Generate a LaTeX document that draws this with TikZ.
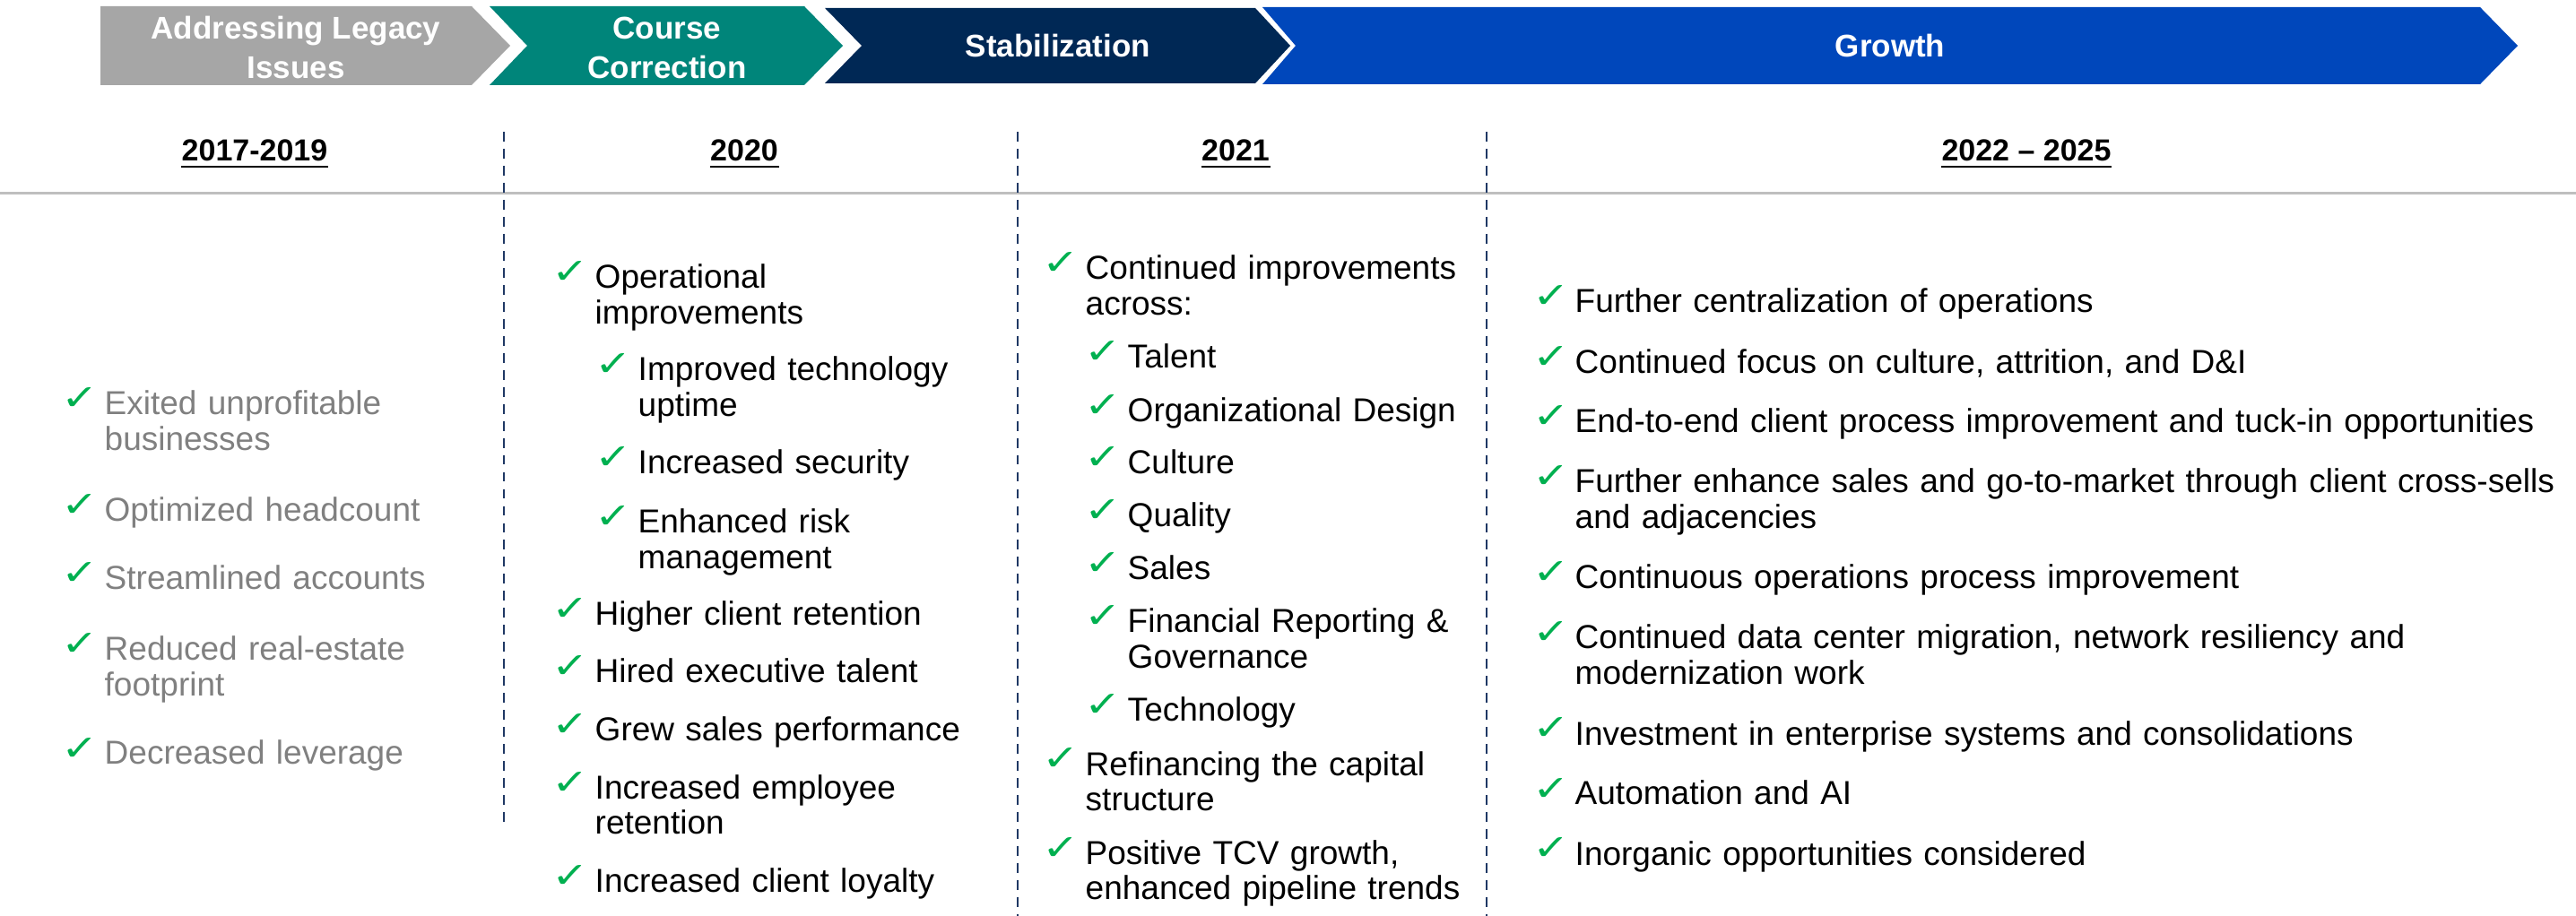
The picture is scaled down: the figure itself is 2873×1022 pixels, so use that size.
\documentclass[tikz,border=0pt]{standalone}
\usepackage{fontspec}
\setmainfont{Liberation Sans}
\newfontfamily\tickfam{DejaVu Sans}
\usepackage{graphicx}
\usepackage{tikz}
\usetikzlibrary{calc}

\definecolor{legacygrey}{RGB}{166,166,166}
\definecolor{courseteal}{RGB}{0,133,122}
\definecolor{stabnavy}{RGB}{0,40,85}
\definecolor{growthblue}{RGB}{0,71,187}
\definecolor{tickgreen}{RGB}{0,176,80}
\definecolor{dashnavy}{RGB}{31,56,100}
\definecolor{rulegrey}{RGB}{191,191,191}
\definecolor{oldtext}{RGB}{128,128,128}

\newcommand{\bodyfont}{\fontsize{10.53pt}{11.24pt}\selectfont}
\newcommand{\headfont}{\fontsize{9.67pt}{11pt}\selectfont\bfseries}
\newcommand{\chevfont}{\fontsize{9.96pt}{12.5pt}\selectfont\bfseries}
\newcommand{\tickfont}{\fontsize{11.3pt}{12pt}\selectfont\tickfam}
\newcommand{\tk}{\scalebox{1.25}[1]{✓}}

\begin{document}
\begin{tikzpicture}[x=0.1mm, y=-0.1mm,
  chevtext/.style={text=white, font=\chevfont, align=center, inner sep=0},
  yearhead/.style={anchor=base, inner sep=0, font=\headfont},
  uline/.style={line width=0.7pt},
  divider/.style={dashnavy, line width=0.8pt, dash pattern=on 3.1pt off 2.3pt},
  item/.style={anchor=base west, inner sep=0, align=left, text width=11cm, font=\bodyfont},
  tick/.style={anchor=base west, inner sep=0, text=tickgreen, font=\tickfont}]

  \useasboundingbox (0,0) rectangle (2873,1022);

  % phase chevrons
  \fill[legacygrey] (112,7) -- (526,7) -- (569,51) -- (526,95) -- (112,95) -- cycle;
  \fill[courseteal] (546,7) -- (897,7) -- (940,51) -- (897,95) -- (546,95) -- (588,51) -- cycle;
  \fill[stabnavy] (920,9) -- (1400,9) -- (1439,51) -- (1400,93) -- (920,93) -- (961,51) -- cycle;
  \fill[growthblue] (1408,8) -- (2766,8) -- (2808,51) -- (2766,94) -- (1408,94) -- (1445,51) -- cycle;
  \node[chevtext] (legacy) at (330,53) {Addressing Legacy\\Issues};
  \node[chevtext] (course) at (744,53) {Course\\Correction};
  \node[chevtext] (stab) at (1180,51) {Stabilization};
  \node[chevtext] (growth) at (2108,51) {Growth};

  % year headers
  \node[yearhead] (y1) at (284,180) {2017-2019};
  \node[yearhead] (y2) at (830,180) {2020};
  \node[yearhead] (y3) at (1378,180) {2021};
  \node[yearhead] (y4) at (2260,180) {2022 – 2025};
  \foreach \h in {y1,y2,y3,y4}
    \draw[uline] ($(\h.base west)+(0,6)$) -- ($(\h.base east)+(0,6)$);

  % rules
  \draw[rulegrey, line width=0.85pt] (0,216) -- (2873,216);
  \draw[divider] (562,147) -- (562,917);
  \draw[divider] (1135,147) -- (1135,1022);
  \draw[divider] (1658,147) -- (1658,1022);

  % 2017-2019
  \foreach \yb/\txt [count=\i] in {463/{Exited unprofitable\\businesses},
      582/Optimized headcount, 658/Streamlined accounts,
      737/{Reduced real-estate\\footprint}, 853/Decreased leverage} {
    \node[item, text=oldtext] (a\i) at (116,\yb) {\txt};
    \node[tick] (ta\i) at ($(a\i.base west)+(-48,-5)$) {\tk};
  }

  % 2020
  \foreach \xb/\yb/\txt [count=\i] in {663/322/{Operational\\improvements},
      711/425/{Improved technology\\uptime}, 711/529/Increased security,
      711/595/{Enhanced risk\\management}, 663/698/Higher client retention,
      663/762/Hired executive talent, 663/827/Grew sales performance,
      663/891/{Increased employee\\retention}, 663/995/Increased client loyalty} {
    \node[item] (b\i) at (\xb,\yb) {\txt};
    \node[tick] (tb\i) at ($(b\i.base west)+(-48,-5)$) {\tk};
  }

  % 2021
  \foreach \xb/\yb/\txt [count=\i] in {1210/312/{Continued improvements\\across:},
      1257/411/Talent, 1257/471/Organizational Design, 1257/529/Culture,
      1257/588/Quality, 1257/647/Sales,
      1257/706/{Financial Reporting \&\\Governance}, 1257/805/Technology,
      1210/865/{Refinancing the capital\\structure},
      1210/964/{Positive TCV growth,\\enhanced pipeline trends}} {
    \node[item] (c\i) at (\xb,\yb) {\txt};
    \node[tick] (tc\i) at ($(c\i.base west)+(-48,-5)$) {\tk};
  }

  % 2022 - 2025
  \foreach \yb/\txt [count=\i] in {349/Further centralization of operations,
      417/{Continued focus on culture, attrition, and D\&I},
      483/End-to-end client process improvement and tuck-in opportunities,
      550/{Further enhance sales and go-to-market through client cross-sells\\and adjacencies},
      657/Continuous operations process improvement,
      724/{Continued data center migration, network resiliency and\\modernization work},
      831/Investment in enterprise systems and consolidations,
      898/Automation and AI, 965/Inorganic opportunities considered} {
    \node[item] (d\i) at (1756,\yb) {\txt};
    \node[tick] (td\i) at ($(d\i.base west)+(-47,-5)$) {\tk};
  }
\end{tikzpicture}
\end{document}
